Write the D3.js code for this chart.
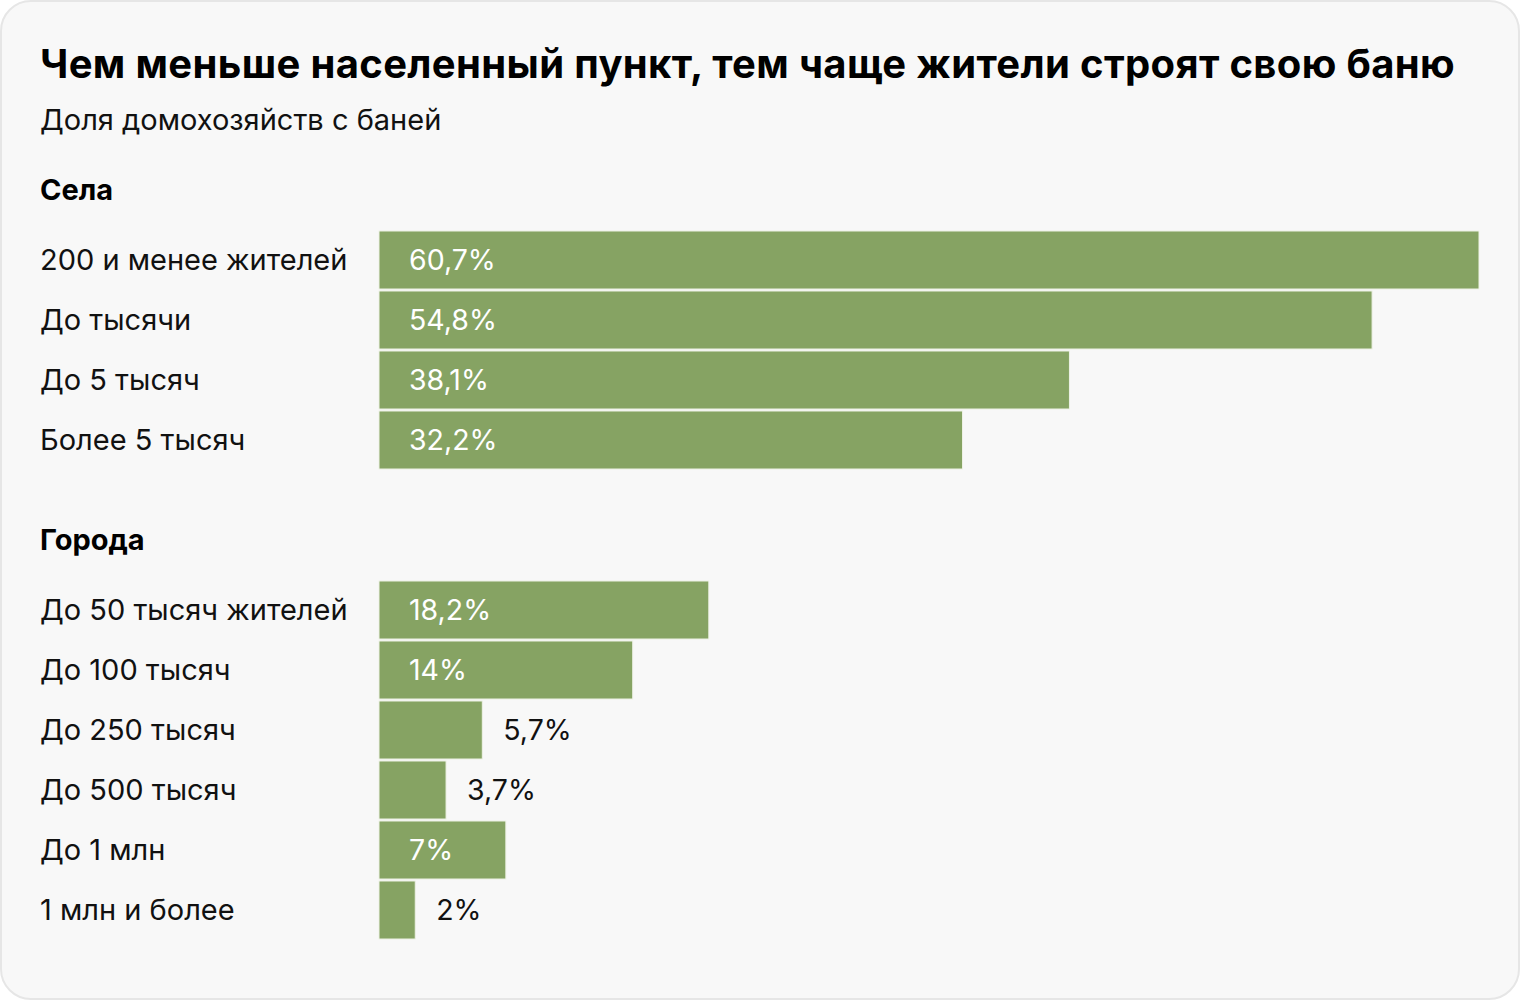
<!DOCTYPE html>
<html><head><meta charset="utf-8">
<script src="https://cdn.jsdelivr.net/npm/d3@7"></script>
<style>
html,body{margin:0;padding:0;background:#fff;}
svg{display:block;font-family:Inter,"Noto Sans",sans-serif;}
</style></head>
<body>
<script>
const title = "Чем меньше населенный пункт, тем чаще жители строят свою баню";
const subtitle = "Доля домохозяйств с баней";
const groupNames = ["Села", "Города"];
const villageCategories = ["200 и менее жителей", "До тысячи", "До 5 тысяч", "Более 5 тысяч"];
const villageValues = [60.7, 54.8, 38.1, 32.2];
const cityCategories = ["До 50 тысяч жителей", "До 100 тысяч", "До 250 тысяч", "До 500 тысяч", "До 1 млн", "1 млн и более"];
const cityValues = [18.2, 14, 5.7, 3.7, 7, 2];

const W = 1520, H = 1000;
const svg = d3.select("body").append("svg").attr("width", W).attr("height", H);

svg.append("rect").attr("x", 1).attr("y", 1).attr("width", W - 2).attr("height", H - 2)
  .attr("rx", 30).attr("fill", "#f8f8f8").attr("stroke", "#e6e6e6").attr("stroke-width", 2);

svg.append("text").attr("x", 40).attr("y", 78).text(title)
  .attr("font-size", 40).attr("font-weight", 700).attr("fill", "#000").attr("letter-spacing", 0.35);
svg.append("text").attr("x", 40).attr("y", 130).text(subtitle)
  .attr("font-size", 29).attr("fill", "#111");

const x = d3.scaleLinear().domain([0, d3.max(villageValues)]).range([379, 1479]);
const fmt = v => String(v).replace(".", ",") + "%";
const green = "#86a363";

function drawGroup(name, cats, vals, headerY, top) {
  svg.append("text").attr("x", 40).attr("y", headerY).text(name)
    .attr("font-size", 29).attr("font-weight", 700).attr("fill", "#000");
  const y = d3.scaleBand().domain(cats).range([top, top + 60 * cats.length]).paddingInner(0.033).paddingOuter(0.0165);
  const g = svg.append("g");
  const data = cats.map((c, i) => ({c, v: vals[i]}));
  g.selectAll("rect").data(data).join("rect")
    .attr("x", x(0)).attr("y", d => y(d.c))
    .attr("width", d => x(d.v) - x(0)).attr("height", y.bandwidth())
    .attr("fill", green).attr("stroke", "#eef2e6").attr("stroke-width", 1);
  g.selectAll("text.cat").data(data).join("text").attr("class", "cat")
    .attr("x", 40).attr("y", d => y(d.c) + y.bandwidth() / 2)
    .attr("dy", "0.36em").attr("font-size", 29).attr("fill", "#111").text(d => d.c);
  g.selectAll("text.val").data(data).join("text").attr("class", "val")
    .attr("x", d => (x(d.v) - x(0) > 110) ? x(0) + 30 : x(d.v) + 21)
    .attr("y", d => y(d.c) + y.bandwidth() / 2)
    .attr("dy", "0.36em").attr("font-size", 28.5)
    .attr("fill", d => (x(d.v) - x(0) > 110) ? "#fff" : "#111").text(d => fmt(d.v));
}

drawGroup(groupNames[0], villageCategories, villageValues, 200, 230);
drawGroup(groupNames[1], cityCategories, cityValues, 550, 580);
</script>
</body></html>
